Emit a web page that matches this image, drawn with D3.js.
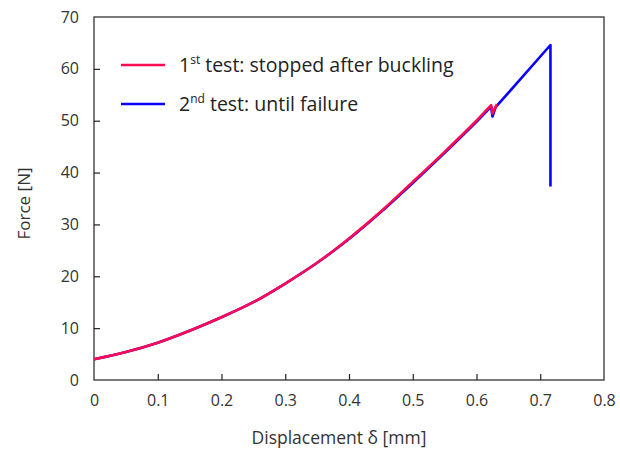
<!DOCTYPE html>
<html><head><meta charset="utf-8">
<script src="https://cdn.jsdelivr.net/npm/d3@7/dist/d3.min.js"></script>
<style>body{margin:0;background:#fff}svg{display:block}</style>
</head><body>
<script>
// Data
const test1X = [0,0.05,0.1,0.15,0.2,0.25,0.3,0.35,0.4,0.45,0.5,0.55,0.6,0.623,0.625,0.632];
const test1Y = [4.0,5.4,7.2,9.5,12.1,15.0,18.6,22.6,27.3,32.5,38.2,44.0,50.0,53.0,51.4,53.2];
const test2X = [0,0.05,0.1,0.15,0.2,0.25,0.3,0.35,0.4,0.45,0.5,0.55,0.6,0.623,0.625,0.63,0.716,0.716];
const test2Y = [4.0,5.4,7.2,9.5,12.1,15.0,18.6,22.6,27.2,32.4,38.0,43.8,49.8,52.7,50.8,52.6,64.6,37.3];
const xTicks = [0,0.1,0.2,0.3,0.4,0.5,0.6,0.7,0.8];
const yTicks = [0,10,20,30,40,50,60,70];
const seriesNames = [["1","st"," test: stopped after buckling"],["2","nd"," test: until failure"]];
const seriesColors = ["#ff0a54","#0a00ff"];

const W=620,H=449;
const m={l:94,r:604,t:17,b:380};
const FONT="'Open Sans','Noto Sans',sans-serif";
const svg=d3.select("body").append("svg").attr("width",W).attr("height",H)
  .style("font-family",FONT);
const x=d3.scaleLinear().domain([0,0.8]).range([m.l,m.r]);
const y=d3.scaleLinear().domain([0,70]).range([m.b,m.t]);

svg.append("rect").attr("x",m.l).attr("y",m.t).attr("width",m.r-m.l).attr("height",m.b-m.t)
  .attr("fill","none").attr("stroke","#222").attr("stroke-width",1.2);

const gx=svg.append("g").attr("transform",`translate(0,${m.b})`)
  .call(d3.axisBottom(x).tickValues(xTicks).tickSize(-6).tickPadding(15).tickFormat(d=>d3.format("")(d)));
const gy=svg.append("g").attr("transform",`translate(${m.l},0)`)
  .call(d3.axisLeft(y).tickValues(yTicks).tickSize(-6).tickPadding(15));
[gx,gy].forEach(g=>{
  g.select(".domain").remove();
  g.selectAll(".tick line").attr("stroke","#222").attr("stroke-width",1.2);
  g.selectAll(".tick text").attr("fill","#333").style("font-size","16px").style("font-family",FONT);
});
gx.selectAll(".tick").filter(d=>d===0||d===0.8).select("line").remove();
gy.selectAll(".tick").filter(d=>d===0||d===70).select("line").remove();

svg.append("text").attr("x",(m.l+m.r)/2-10).attr("y",444).attr("text-anchor","middle")
  .attr("fill","#333").style("font-size","17.5px").text("Displacement δ [mm]");
svg.append("text").attr("transform",`translate(30,${(m.t+m.b)/2+5}) rotate(-90)`).attr("text-anchor","middle")
  .attr("fill","#333").style("font-size","17px").text("Force [N]");

const line=d3.line().x(d=>x(d[0])).y(d=>y(d[1]));
const d1=test1X.map((v,i)=>[v,test1Y[i]]);
const d2=test2X.map((v,i)=>[v,test2Y[i]]);
const lineC=d3.line().x(d=>x(d[0])).y(d=>y(d[1])).curve(d3.curveMonotoneX);
function path(data,nSmooth){
  const a=data.slice(0,nSmooth), b=data.slice(nSmooth-1);
  return lineC(a)+line(b).replace(/^M/,"L");
}
svg.append("path").attr("d",path(d2,13)).attr("fill","none").attr("stroke",seriesColors[1]).attr("stroke-width",2.6).attr("stroke-linejoin","round");
svg.append("path").attr("d",path(d1,13)).attr("fill","none").attr("stroke",seriesColors[0]).attr("stroke-width",2.6).attr("stroke-linejoin","round");

// legend
const ly=[65,104];
seriesNames.forEach((n,i)=>{
  svg.append("line").attr("x1",121).attr("x2",165).attr("y1",ly[i]).attr("y2",ly[i])
    .attr("stroke",seriesColors[i]).attr("stroke-width",2.4);
  const t=svg.append("text").attr("x",179).attr("y",ly[i]+7).attr("fill","#222").style("font-size","19.5px");
  t.append("tspan").text(n[0]);
  t.append("tspan").attr("dy",-8).style("font-size","12px").text(n[1]);
  t.append("tspan").attr("dy",8).text(n[2]);
});
</script>
</body></html>
